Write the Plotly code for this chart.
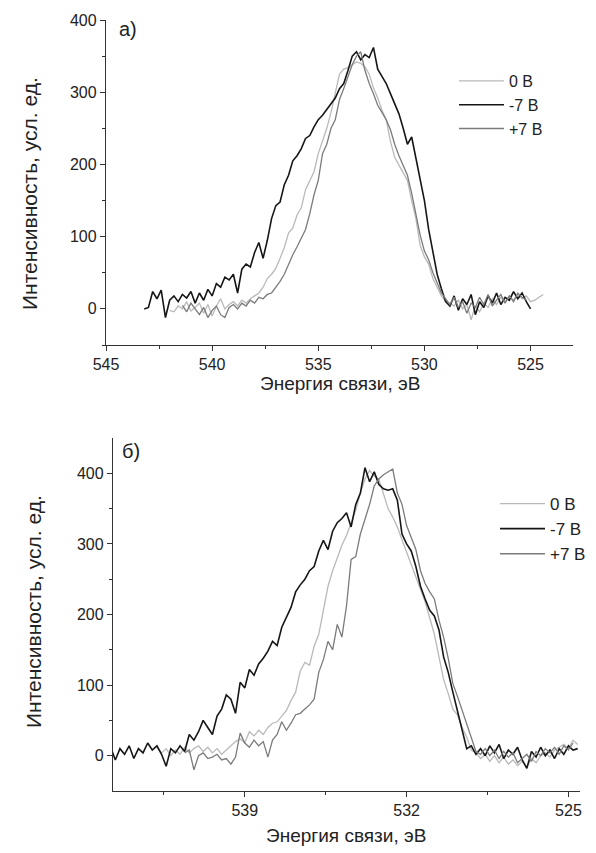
import plotly.graph_objects as go

# ---------------- data: panel a) ----------------
energy_a = [543.2, 543.0, 542.8, 542.6, 542.4, 542.2, 542.0, 541.8, 541.6, 541.4,
            541.2, 541.0, 540.8, 540.6, 540.4, 540.2, 540.0, 539.8, 539.6, 539.4,
            539.2, 539.0, 538.8, 538.6, 538.4, 538.2, 538.0, 537.8, 537.6, 537.4,
            537.2, 537.0, 536.8, 536.6, 536.4, 536.2, 536.0, 535.8, 535.6, 535.4,
            535.2, 535.0, 534.8, 534.6, 534.4, 534.2, 534.0, 533.8, 533.6, 533.4,
            533.2, 533.0, 532.8, 532.6, 532.4, 532.2, 532.0, 531.8, 531.6, 531.4,
            531.2, 531.0, 530.8, 530.6, 530.4, 530.2, 530.0, 529.8, 529.6, 529.4,
            529.2, 529.0, 528.8, 528.6, 528.4, 528.2, 528.0, 527.8, 527.6, 527.4,
            527.2, 527.0, 526.8, 526.6, 526.4, 526.2, 526.0, 525.8, 525.6, 525.4,
            525.2, 525.0, 524.8, 524.6, 524.4]

a_0V = [None, None, None, None, None, None,
        -2, -4, 4, 0, 10, -3, 2, 8, -6, 6, -10, 4, 14, 0,
        6, 10, 4, 12, 8, 14, 18, 22, 30, 42,
        48, 56, 70, 85, 105, 112, 130, 140, 165, 178,
        190, 215, 232, 250, 272, 300, 325, 332, 334, 338,
        342, 340, 335, 325, 306, 292, 275, 262, 232, 210,
        200, 188, 178, 150, 125, 88, 72, 62, 42, 30,
        18, 10, 8, 4, 12, 0, 6, -15, 4, -4,
        8, 2, 14, 6, 16, 10, 18, 12, 20, 14,
        18, 10, 12, 16, 20]

a_m7V = [0, 2, 24, 14, 26, -12, 12, 18, 10, 20,
         15, 24, 8, 22, 12, 27, 18, 35, 30, 44,
         40, 48, 22, 55, 62, 58, 78, 92, 70, 95,
         125, 143, 148, 172, 185, 205, 212, 222, 236, 240,
         252, 262, 268, 276, 285, 292, 305, 312, 330, 350,
         356, 345, 352, 348, 362, 332, 322, 312, 298, 284,
         270, 250, 228, 238, 208, 180, 150, 110, 80, 48,
         28, 10, 4, 18, -2, 14, 6, 20, -8, 10,
         2, 18, 8, 22, 6, 16, 12, 24, 14, 22,
         10, 0, None, None, None]

a_p7V = [None, None, None, None, None, None, None, None, None,
         5, -4, 8, 0, -8, 2, -12, -2, 4, -8, -12,
         2, 6, 0, 8, 4, 12, 8, 16, 14, 20,
         22, 30, 38, 48, 62, 75, 86, 98, 110, 132,
         158, 178, 215, 228, 250, 262, 290, 305, 322, 338,
         350, 356, 330, 312, 298, 282, 272, 262, 248, 228,
         212, 198, 185, 160, 130, 102, 80, 68, 50, 36,
         22, 14, 6, 16, 2, 10, -6, 8, 2, 16,
         6, 20, 4, 12, 20, 8, 18, 10, 22, 16,
         12, None, None, None, None]

# ---------------- data: panel б) ----------------
energy_b = [545.0, 544.8, 544.6, 544.4, 544.2, 544.0, 543.8, 543.6, 543.4, 543.2,
            543.0, 542.8, 542.6, 542.4, 542.2, 542.0, 541.8, 541.6, 541.4, 541.2,
            541.0, 540.8, 540.6, 540.4, 540.2, 540.0, 539.8, 539.6, 539.4, 539.2,
            539.0, 538.8, 538.6, 538.4, 538.2, 538.0, 537.8, 537.6, 537.4, 537.2,
            537.0, 536.8, 536.6, 536.4, 536.2, 536.0, 535.8, 535.6, 535.4, 535.2,
            535.0, 534.8, 534.6, 534.4, 534.2, 534.0, 533.8, 533.6, 533.4, 533.2,
            533.0, 532.8, 532.6, 532.4, 532.2, 532.0, 531.8, 531.6, 531.4, 531.2,
            531.0, 530.8, 530.6, 530.4, 530.2, 530.0, 529.8, 529.6, 529.4, 529.2,
            529.0, 528.8, 528.6, 528.4, 528.2, 528.0, 527.8, 527.6, 527.4, 527.2,
            527.0, 526.8, 526.6, 526.4, 526.2, 526.0, 525.8, 525.6, 525.4, 525.2,
            525.0, 524.8, 524.6]

b_0V = [None, None, None, None, None, None, None, None, None, None, None,
        12, 4, 10, 0, 8, 2, 12, 4, 10,
        14, 6, 12, 4, 10, 2, 8, 14, 20, 24,
        18, 34, 28, 36, 30, 40, 46, 48, 56, 64,
        78, 90, 120, 132, 128, 155, 172, 205, 240, 262,
        280, 298, 312, 330, 348, 372, 392, 404, 396, 392,
        372, 350, 338, 324, 306, 288, 270, 255, 236, 218,
        195, 172, 140, 108, 88, 66, 58, 40, 26, 8,
        4, -4, 2, -8, 0, -10, -2, -12, -6, -14,
        -8, -16, -4, -10, 0, 4, -2, 8, 12, 16,
        10, 22, 16]

b_m7V = [6, 12, -6, 10, 2, 14, -4, 10, 4, 18,
         8, 14, 2, -15, 10, 4, 14, 6, 30, 22,
         34, 50, 40, 30, 56, 66, 86, 80, 60, 104,
         96, 122, 114, 130, 138, 148, 162, 156, 182, 195,
         210, 232, 242, 250, 262, 268, 290, 305, 292, 318,
         330, 336, 344, 324, 356, 372, 408, 388, 402, 384,
         378, 376, 378, 362, 314, 300, 290, 268, 240, 222,
         206, 198, 178, 140, 118, 90, 62, 38, 10, 14,
         2, 10, 0, 14, 4, 16, -4, 8, 2, 12,
         -6, -18, 6, -2, 12, 0, 8, -4, 10, 2,
         14, 8, 10]

b_p7V = [None, None, None, None, None, None, None, None, None, None,
         None, None, None, None, None, None, None,
         4, 8, -20,
         0, 4, -4, -2, 2, -6, -4, -12, -2, 32,
         18, 12, 22, 14, 20, -2, 22, 30, 48, 36,
         46, 58, 60, 66, 72, 80, 118, 136, 162, 150,
         186, 168, 212, 278, 282, 314, 336, 356, 382, 392,
         398, 402, 406, 372, 356, 326, 310, 292, 262, 244,
         232, 222, 192, 168, 138, 102, 84, 64, 44, 24,
         6, 2, 10, 0, 8, -4, 6, -2, 4, -10,
         -4, 2, -8, 6, 0, 10, 4, 12, 2, 14,
         8, 18, None]

series_names = ["0 В", "-7 В", "+7 В"]
series_colors = ["#b9b9b9", "#161616", "#7b7b7b"]
series_widths = [1.3, 1.6, 1.3]

xticks_a = [545, 540, 535, 530, 525]
xminor_a = [542.5, 537.5, 532.5, 527.5]
xticks_b = [539, 532, 525]
xminor_b = [542.5, 535.5, 528.5]
yticks = [0, 100, 200, 300, 400]
yminor = [-50, 50, 150, 250, 350]

FONT = "Liberation Sans, Arial, sans-serif"
OFF = 8                      # page body margin of the html page
W, H = 596 - OFF, 853 - OFF  # figure size so that it fills the window


def px(x):
    return (x - OFF) / W


def py(y):
    return 1 - (y - OFF) / H


fig = go.Figure()

for name, ys, col, w in zip(series_names, [a_0V, a_m7V, a_p7V], series_colors, series_widths):
    fig.add_trace(go.Scatter(x=energy_a, y=ys, mode="lines", name=name,
                             line=dict(color=col, width=w),
                             xaxis="x", yaxis="y", legend="legend"))

for name, ys, col, w in zip(series_names, [b_0V, b_m7V, b_p7V], series_colors, series_widths):
    fig.add_trace(go.Scatter(x=energy_b, y=ys, mode="lines", name=name,
                             line=dict(color=col, width=w),
                             xaxis="x2", yaxis="y2", legend="legend2"))


def axis(domain, anchor, rng, tickvals, minorvals):
    return dict(domain=domain, anchor=anchor, range=rng, automargin=False,
                tickmode="array", tickvals=tickvals,
                showline=True, linecolor="#333", linewidth=1.3, ticks="outside",
                ticklen=5, tickwidth=1.2, tickcolor="#333", showgrid=False,
                zeroline=False, tickfont=dict(family=FONT, size=16, color="#222"),
                minor=dict(ticks="outside", ticklen=3, tickwidth=1.2, tickcolor="#333",
                           showgrid=False, tickvals=minorvals))


def legend_style(size):
    return dict(xanchor="left", yanchor="top", bgcolor="rgba(0,0,0,0)",
                font=dict(family=FONT, size=size, color="#222"),
                tracegroupgap=0, itemwidth=45)


fig.update_layout(
    width=W, height=H, margin=dict(l=0, r=0, t=0, b=0, autoexpand=False),
    paper_bgcolor="white", plot_bgcolor="white",
    font=dict(family=FONT, color="#222"),
    xaxis=axis([px(106), px(573)], "y", [545, 523], xticks_a, xminor_a),
    yaxis=axis([py(345), py(20)], "x", [-50, 400], yticks, yminor),
    xaxis2=axis([px(113), px(580)], "y2", [544.7, 524.5], xticks_b, xminor_b),
    yaxis2=axis([py(791), py(438)], "x2", [-50, 450], yticks, yminor[1:]),
    legend=dict(x=px(454), y=py(64), **legend_style(16)),
    legend2=dict(x=px(495), y=py(486), **legend_style(17)),
    showlegend=True,
    annotations=[
        dict(text="а)", x=px(117), y=py(29), xref="paper", yref="paper",
             xanchor="left", yanchor="middle", showarrow=False,
             font=dict(family=FONT, size=20, color="#222")),
        dict(text="б)", x=px(120), y=py(451), xref="paper", yref="paper",
             xanchor="left", yanchor="middle", showarrow=False,
             font=dict(family=FONT, size=20, color="#222")),
        # axis titles
        dict(text="Энергия связи, эВ", x=px(339.5), y=py(383), xref="paper", yref="paper",
             xanchor="center", yanchor="middle", showarrow=False,
             font=dict(family=FONT, size=19, color="#222")),
        dict(text="Энергия связи, эВ", x=px(346), y=py(835), xref="paper", yref="paper",
             xanchor="center", yanchor="middle", showarrow=False,
             font=dict(family=FONT, size=19, color="#222")),
        dict(text="Интенсивность, усл. ед.", x=px(30), y=py(194), xref="paper", yref="paper",
             xanchor="center", yanchor="middle", showarrow=False, textangle=-90,
             font=dict(family=FONT, size=21, color="#222")),
        dict(text="Интенсивность, усл. ед.", x=px(33), y=py(612), xref="paper", yref="paper",
             xanchor="center", yanchor="middle", showarrow=False, textangle=-90,
             font=dict(family=FONT, size=21, color="#222")),
    ],
)

fig.write_html("out.html")
